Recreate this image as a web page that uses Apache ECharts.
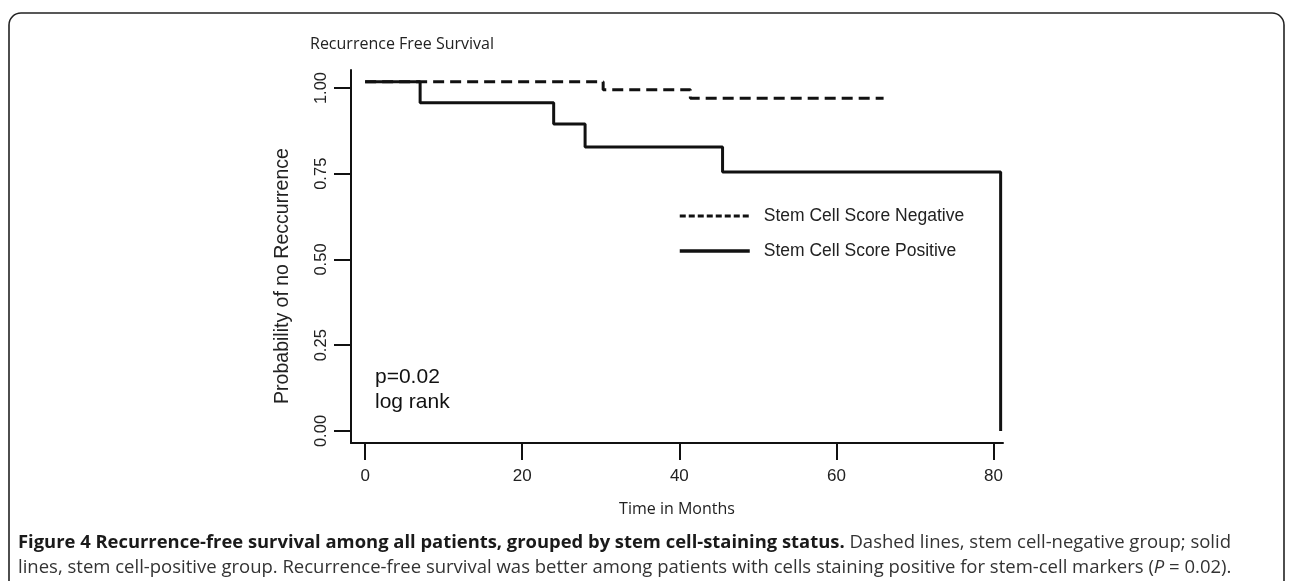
<!DOCTYPE html>
<html>
<head>
<meta charset="utf-8">
<script src="https://cdn.jsdelivr.net/npm/echarts@6/dist/echarts.min.js"></script>
<style>
html,body{margin:0;padding:0;background:#fff;}
#chart{width:1293px;height:581px;}
</style>
</head>
<body>
<div id="chart"></div>
<script>
// Data
const seriesNames = ['Stem Cell Score Negative', 'Stem Cell Score Positive'];
const negMonths = [0, 30.3, 41.4, 66];
const negSurvival = [1.018, 0.995, 0.970, 0.970];
const posMonths = [0, 7, 24, 28, 45.5, 80.9];
const posSurvival = [1.018, 0.957, 0.895, 0.828, 0.755, 0];
const xTicks = [0, 20, 40, 60, 80];
const yTicks = [0, 0.25, 0.5, 0.75, 1];

const pair = (xs, ys) => xs.map((x, i) => [x, ys[i]]);
const chart = echarts.init(document.getElementById('chart'), null, {renderer: 'canvas'});
const axisFont = 'Liberation Sans, Arial, sans-serif';
const capFont = 'Open Sans, sans-serif';

chart.setOption({
  animation: false,
  backgroundColor: '#fff',
  title: {
    text: 'Recurrence Free Survival',
    left: 305, top: 31,
    textStyle: {fontFamily: capFont, fontSize: 16, fontWeight: 'normal', color: '#222'}
  },
  grid: {left: 351, right: 290, top: 70, bottom: 138},
  legend: {
    orient: 'vertical', left: 673, top: 202, itemGap: 17,
    itemWidth: 70, itemHeight: 16,
    itemStyle: {opacity: 0},
    textStyle: {fontFamily: axisFont, fontSize: 17.5, color: '#222', padding: [0, 0, 0, 9]},
    data: [
      {name: seriesNames[0], lineStyle: {type: [6, 3], width: 3, color: '#111'}},
      {name: seriesNames[1], lineStyle: {type: 'solid', width: 3.5, color: '#111'}}
    ]
  },
  xAxis: {
    type: 'value', min: -1.8, max: 81.2,
    name: 'Time in Months', nameLocation: 'middle', nameGap: 58,
    nameTextStyle: {fontFamily: capFont, fontSize: 16, color: '#222'},
    axisLine: {onZero: false, lineStyle: {color: '#111', width: 2}},
    axisTick: {customValues: xTicks, length: 17, lineStyle: {color: '#111', width: 2}},
    axisLabel: {customValues: xTicks, margin: 25, fontFamily: axisFont, fontSize: 17, color: '#222'},
    splitLine: {show: false}
  },
  yAxis: {
    type: 'value', min: -0.035, max: 1.0525,
    axisLine: {onZero: false, lineStyle: {color: '#111', width: 2}},
    axisTick: {customValues: yTicks, length: 17, lineStyle: {color: '#111', width: 2}},
    axisLabel: {customValues: yTicks, rotate: 90, margin: 21, fontFamily: axisFont, fontSize: 16.5, color: '#222',
      formatter: v => v.toFixed(2)},
    splitLine: {show: false}
  },
  series: [
    {
      name: seriesNames[0], type: 'line', step: 'end', symbol: 'none',
      data: pair(negMonths, negSurvival),
      lineStyle: {color: '#111', width: 3, type: [11, 6]},
      itemStyle: {color: '#111'}
    },
    {
      name: seriesNames[1], type: 'line', step: 'end', symbol: 'none',
      data: pair(posMonths, posSurvival),
      lineStyle: {color: '#111', width: 3},
      itemStyle: {color: '#111'}
    }
  ],
  graphic: [
    {type: 'rect', shape: {x: 9, y: 13, width: 1275, height: 600, r: 12},
     style: {fill: 'none', stroke: '#222', lineWidth: 1.6}, silent: true},
    {type: 'text', x: 283, y: 276, rotation: Math.PI / 2,
     style: {text: 'Probability of no Reccurrence', align: 'center', verticalAlign: 'middle',
       fontFamily: axisFont, fontSize: 19.5, fill: '#222'}},
    {type: 'text', left: 375, top: 365,
     style: {text: 'p=0.02\nlog rank', fontFamily: axisFont, fontSize: 21, lineHeight: 25, fill: '#111'}},
    {type: 'text', left: 18, top: 530,
     style: {
       lineHeight: 25,
       fontFamily: capFont, fontSize: 18.5, fill: '#333',
       text: '{b|Figure 4 Recurrence-free survival among all patients, grouped by stem cell-staining status.} Dashed lines, stem cell-negative group; solid\nlines, stem cell-positive group. Recurrence-free survival was better among patients with cells staining positive for stem-cell markers ({i|P} = 0.02).',
       rich: {
         b: {fontFamily: capFont, fontSize: 18.4, fontWeight: 'bold', fill: '#1a1a1a', lineHeight: 25},
         i: {fontFamily: capFont, fontSize: 18.5, fontStyle: 'italic', fill: '#333', lineHeight: 25}
       }
     }}
  ]
});
</script>
</body>
</html>
